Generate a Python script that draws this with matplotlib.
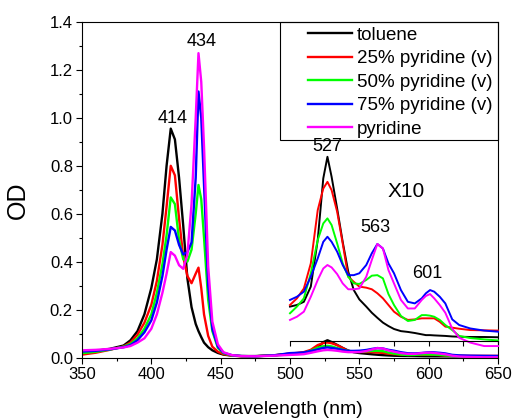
import matplotlib
matplotlib.use('Agg')
import matplotlib.pyplot as plt
import matplotlib.ticker as mticker
from matplotlib.patches import Rectangle
import numpy as np

plt.rcParams['font.family'] = ['Liberation Sans', 'DejaVu Sans']

# wavelength grid (nm): Soret region then Q-band region
wavelength = [350, 360, 370, 380, 385, 390, 395, 400, 404, 408, 411, 414, 417, 420, 423,
              426, 429, 432, 434, 436, 438, 441, 444, 448, 452, 458, 465, 475, 490,
              500, 505, 510, 515, 520, 524, 527, 530, 534, 538, 542, 546, 550, 555, 559,
              563, 567, 571, 575, 580, 585, 590, 595, 598, 601, 604, 608, 612, 617, 622,
              630, 640, 650]

toluene = [0.020, 0.028, 0.036, 0.050, 0.072, 0.110, 0.180, 0.290, 0.410, 0.600, 0.800, 0.955, 0.910, 0.750, 0.550,
           0.330, 0.210, 0.140, 0.110, 0.085, 0.062, 0.043, 0.030, 0.019, 0.012, 0.008, 0.006, 0.006, 0.010,
           0.0158, 0.0164, 0.0176, 0.0233, 0.0408, 0.0639, 0.0720, 0.0645, 0.0526, 0.0401, 0.0289, 0.0220, 0.0185, 0.0158, 0.0135,
           0.0116, 0.0098, 0.0085, 0.0074, 0.0066, 0.0063, 0.0059, 0.0054, 0.0051, 0.0051, 0.0050, 0.0049, 0.0048, 0.0046, 0.0045,
           0.0044, 0.0044, 0.0043]

pyr25 = [0.012, 0.020, 0.032, 0.046, 0.063, 0.095, 0.145, 0.220, 0.320, 0.470, 0.630, 0.800, 0.760, 0.580, 0.420,
         0.340, 0.310, 0.350, 0.375, 0.290, 0.180, 0.090, 0.045, 0.024, 0.014, 0.008, 0.005, 0.005, 0.010,
         0.0164, 0.0189, 0.0226, 0.0320, 0.0520, 0.0601, 0.0626, 0.0595, 0.0514, 0.0395, 0.0270, 0.0251, 0.0233, 0.0229, 0.0223,
         0.0208, 0.0189, 0.0164, 0.0139, 0.0120, 0.0108, 0.0110, 0.0114, 0.0114, 0.0114, 0.0114, 0.0101, 0.0083, 0.0079, 0.0075,
         0.0070, 0.0069, 0.0068]

pyr50 = [0.018, 0.024, 0.033, 0.045, 0.057, 0.080, 0.120, 0.180, 0.270, 0.390, 0.510, 0.668, 0.640, 0.490, 0.410,
         0.400, 0.450, 0.600, 0.720, 0.660, 0.500, 0.240, 0.110, 0.040, 0.018, 0.009, 0.006, 0.005, 0.009,
         0.0133, 0.0158, 0.0189, 0.0283, 0.0408, 0.0470, 0.0489, 0.0464, 0.0395, 0.0320, 0.0270, 0.0245, 0.0243, 0.0258, 0.0274,
         0.0276, 0.0264, 0.0205, 0.0164, 0.0123, 0.0104, 0.0108, 0.0126, 0.0126, 0.0124, 0.0120, 0.0108, 0.0089, 0.0070, 0.0048,
         0.0040, 0.0035, 0.0031]

pyr75 = [0.025, 0.028, 0.034, 0.043, 0.052, 0.072, 0.105, 0.155, 0.230, 0.340, 0.450, 0.545, 0.530, 0.470, 0.430,
         0.440, 0.480, 0.750, 1.110, 1.000, 0.720, 0.300, 0.120, 0.045, 0.020, 0.010, 0.006, 0.005, 0.010,
         0.0183, 0.0195, 0.0214, 0.0270, 0.0339, 0.0401, 0.0420, 0.0401, 0.0364, 0.0314, 0.0276, 0.0276, 0.0283, 0.0314, 0.0358,
         0.0393, 0.0376, 0.0320, 0.0283, 0.0220, 0.0176, 0.0170, 0.0189, 0.0208, 0.0220, 0.0214, 0.0195, 0.0170, 0.0110, 0.0089,
         0.0076, 0.0068, 0.0064]

pyridine = [0.030, 0.032, 0.036, 0.042, 0.048, 0.062, 0.080, 0.120, 0.180, 0.270, 0.350, 0.440, 0.425, 0.385, 0.370,
            0.430, 0.640, 1.000, 1.270, 1.150, 0.880, 0.380, 0.150, 0.055, 0.022, 0.010, 0.006, 0.005, 0.008,
            0.0108, 0.0120, 0.0139, 0.0195, 0.0258, 0.0301, 0.0314, 0.0305, 0.0280, 0.0245, 0.0223, 0.0223, 0.0226, 0.0270, 0.0333,
            0.0393, 0.0376, 0.0295, 0.0245, 0.0183, 0.0151, 0.0151, 0.0183, 0.0198, 0.0205, 0.0189, 0.0164, 0.0135, 0.0075, 0.0041,
            0.0023, 0.0010, 0.0010]

labels = ["toluene", "25% pyridine (v)", "50% pyridine (v)", "75% pyridine (v)", "pyridine"]
colors = ["#000000", "#FF0000", "#00FF00", "#0000FF", "#FF00FF"]
series = [toluene, pyr25, pyr50, pyr75, pyridine]

wl = np.array(wavelength)
fig = plt.figure(figsize=(5.13, 4.18), dpi=100)
ax = fig.add_axes([82 / 513, 1 - 357.5 / 418, 416 / 513, 335.5 / 418])

for y, c, lab in zip(series, colors, labels):
    ax.plot(wl, y, color=c, lw=1.7, label=lab)

ax.set_xlim(350, 650)
ax.set_ylim(0, 1.4)
ax.xaxis.set_major_locator(mticker.MultipleLocator(50))
ax.xaxis.set_minor_locator(mticker.MultipleLocator(25))
ax.yaxis.set_major_locator(mticker.MultipleLocator(0.2))
ax.yaxis.set_minor_locator(mticker.MultipleLocator(0.1))
ax.yaxis.set_major_formatter(mticker.FormatStrFormatter("%.1f"))
ax.tick_params(which='major', direction='out', length=4, width=0.8, labelsize=12, pad=2.5)
ax.tick_params(which='minor', direction='out', length=2.2, width=0.8)
for s in ax.spines.values():
    s.set_linewidth(0.8)

ax.set_xlabel("wavelength (nm)", fontsize=14)
ax.set_ylabel("OD", fontsize=18)
ax.xaxis.set_label_coords(0.5, -0.13)
ax.yaxis.set_label_coords(-0.125, 0.47)

# legend: entries without frame, box drawn separately
leg = ax.legend(loc='upper left', bbox_to_anchor=(0.5433, 0.986), frameon=False,
                borderaxespad=0, borderpad=0, fontsize=13.5, handlelength=2.35,
                labelspacing=0.34, handletextpad=0.27)
ax.add_patch(Rectangle((0.476, 0.648), 0.524, 0.352, transform=ax.transAxes,
                       fill=False, lw=0.8, edgecolor='black', clip_on=False))

# Soret peak labels
i_tol = int(np.argmax(toluene))
ax.text(wl[i_tol] + 1, toluene[i_tol] + 0.008, "414", ha='center', va='bottom', fontsize=13)
i_pyr = int(np.argmax(pyridine))
ax.text(wl[i_pyr] + 2, pyridine[i_pyr] + 0.013, "434", ha='center', va='bottom', fontsize=13)

# x10 inset of the Q bands
ins = ax.inset_axes([0.5, 0.05, 0.5, 0.7175])
ins.patch.set_alpha(0)
q = wl >= 500
for y, c in zip(series, colors):
    ins.plot(wl[q], 10 * np.array(y)[q], color=c, lw=1.4, clip_on=False)
ins.set_xlim(500, 650)
ins.set_ylim(0.03, 0.933)
for s in ['top', 'left', 'right']:
    ins.spines[s].set_visible(False)
ins.spines['bottom'].set_linewidth(0.8)
ins.set_yticks([])
ins.set_xticks(np.arange(500, 651, 25))
ins.set_xticklabels([])
ins.tick_params(axis='x', direction='out', length=3.5, width=0.8)

qx = wl[q]
tq = 10 * np.array(toluene)[q]
bq = 10 * np.array(pyr75)[q]
j = int(np.argmax(tq))
ins.text(qx[j], tq[j] + 0.008, "527", ha='center', va='bottom', fontsize=13)
m = (qx > 555) & (qx < 575)
j = int(np.argmax(np.where(m, bq, 0)))
ins.text(qx[j] - 1.5, bq[j] + 0.03, "563", ha='center', va='bottom', fontsize=13)
m = (qx > 590) & (qx < 612)
j = int(np.argmax(np.where(m, bq, 0)))
ins.text(qx[j] - 2, bq[j] + 0.03, "601", ha='center', va='bottom', fontsize=13)
ins.text(584, 0.589, "X10", ha='center', va='center', fontsize=15)

fig.savefig("out.png", dpi=100)
